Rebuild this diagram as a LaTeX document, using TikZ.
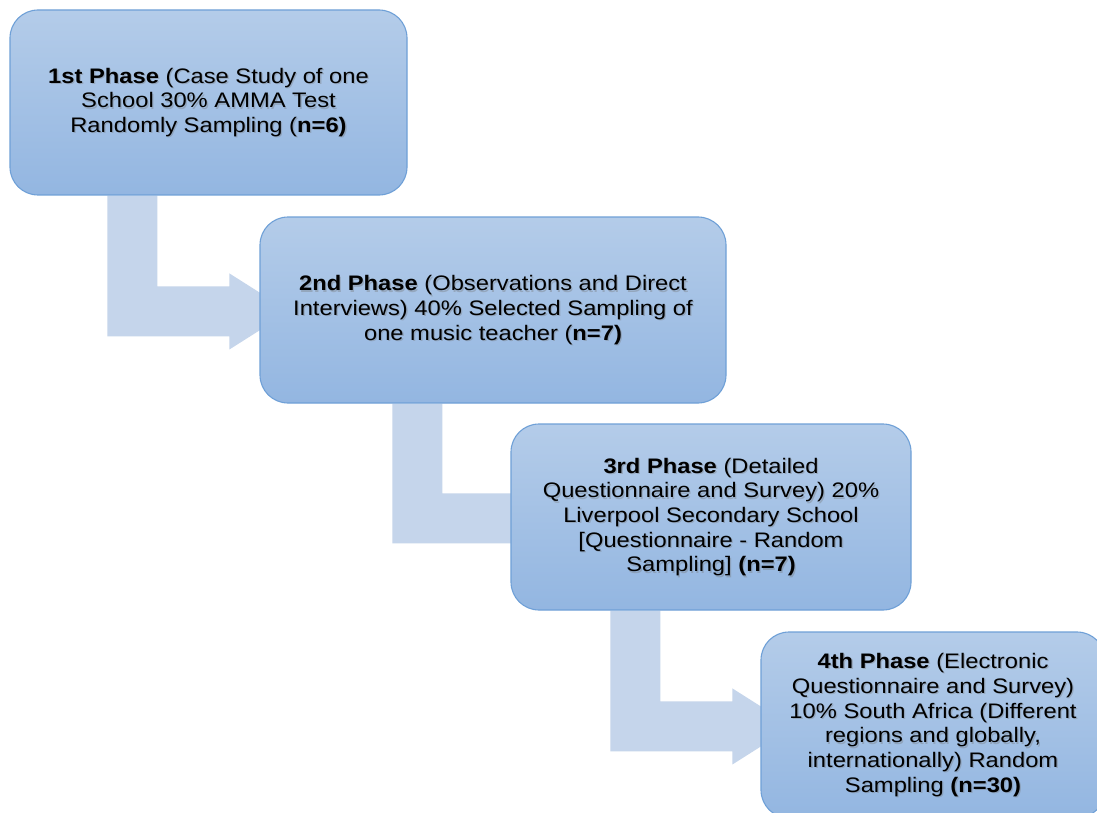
\documentclass[tikz,border=0pt]{standalone}
\usepackage{fontspec}
\setmainfont{Liberation Sans}[FakeStretch=1.13]
\usetikzlibrary{calc}
\pgfdeclarelayer{bg}
\pgfsetlayers{bg,main}

\definecolor{boxtop}{HTML}{B4CCE9}
\definecolor{boxbottom}{HTML}{93B6E1}
\definecolor{boxline}{HTML}{6FA0D7}
\definecolor{connfill}{HTML}{C5D5EB}

\tikzset{
  phasebox/.style={rectangle, rounded corners=28pt, draw=boxline, line width=1.1pt,
    top color=boxtop, bottom color=boxbottom, inner sep=0pt},
  phasetext/.style={align=center, inner sep=0pt, text=black,
    font=\fontsize{21}{24.7}\selectfont},
  phaseshadow/.style={phasetext, text=black!55, opacity=0.35},
}

% bent step connector: vertical bar leaving #1, arrow entering #2
\newcommand\stepconn[4]{%
  \fill[connfill] let \p1=(#1.south west), \p2=(#2.north west) in
    (\x1+#3, \y1) -- (\x1+#3+50pt, \y1) -- (\x1+#3+50pt, \y2-70pt)
    -- (\x2+#4, \y2-70pt) -- (\x2+#4, \y2-57pt) -- (\x2+#4+60pt, \y2-95pt)
    -- (\x2+#4, \y2-133pt) -- (\x2+#4, \y2-120pt) -- (\x1+#3, \y2-120pt) -- cycle;}

\def\txtone{\textbf{1st Phase} (Case Study of one\\School 30\% AMMA Test\\Randomly Sampling (\textbf{n=6)}}
\def\txttwo{\textbf{2nd Phase} (Observations and Direct\\Interviews) 40\% Selected Sampling of\\one music teacher (\textbf{n=7)}}
\def\txtthree{\textbf{3rd Phase} (Detailed\\Questionnaire and Survey) 20\%\\Liverpool Secondary School\\{[}Questionnaire - Random\\Sampling] \textbf{(n=7)}}
\def\txtfour{\textbf{4th Phase} (Electronic\\Questionnaire and Survey)\\10\% South Africa (Different\\regions and globally,\\internationally) Random\\Sampling \textbf{(n=30)}}

\begin{document}
\begin{tikzpicture}[x=1pt, y=-1pt]
  \clip (0,0) rectangle (1097,813);

  % phase boxes
  \node[phasebox, minimum width=397pt, minimum height=185pt] (p1) at (208.5,102.5) {};
  \node[phasebox, minimum width=466pt, minimum height=186pt] (p2) at (493,310) {};
  \node[phasebox, minimum width=400pt, minimum height=186pt] (p3) at (711,517) {};
  \node[phasebox, minimum width=344pt, minimum height=186pt] (p4) at (933,725) {};

  % box texts with a soft drop shadow
  \node[phaseshadow] at ([shift={(1.3,1.3)}]p1.center) {\txtone};
  \node[phasetext] (t1) at (p1.center) {\txtone};
  \node[phaseshadow] at ([shift={(1.3,1.3)}]p2.center) {\txttwo};
  \node[phasetext] (t2) at (p2.center) {\txttwo};
  \node[phaseshadow] at ([shift={(1.3,1.3)}]p3.center) {\txtthree};
  \node[phasetext] (t3) at (p3.center) {\txtthree};
  \node[phaseshadow] at ([shift={(1.3,1.3)}]p4.center) {\txtfour};
  \node[phasetext] (t4) at (p4.center) {\txtfour};

  % white ground and connectors behind the boxes
  \begin{pgfonlayer}{bg}
    \fill[white] (0,0) rectangle (1097,813);
    \stepconn{p1}{p2}{98pt}{-30pt}
    \stepconn{p2}{p3}{133pt}{6pt}
    \stepconn{p3}{p4}{100pt}{-28pt}
  \end{pgfonlayer}
\end{tikzpicture}
\end{document}
